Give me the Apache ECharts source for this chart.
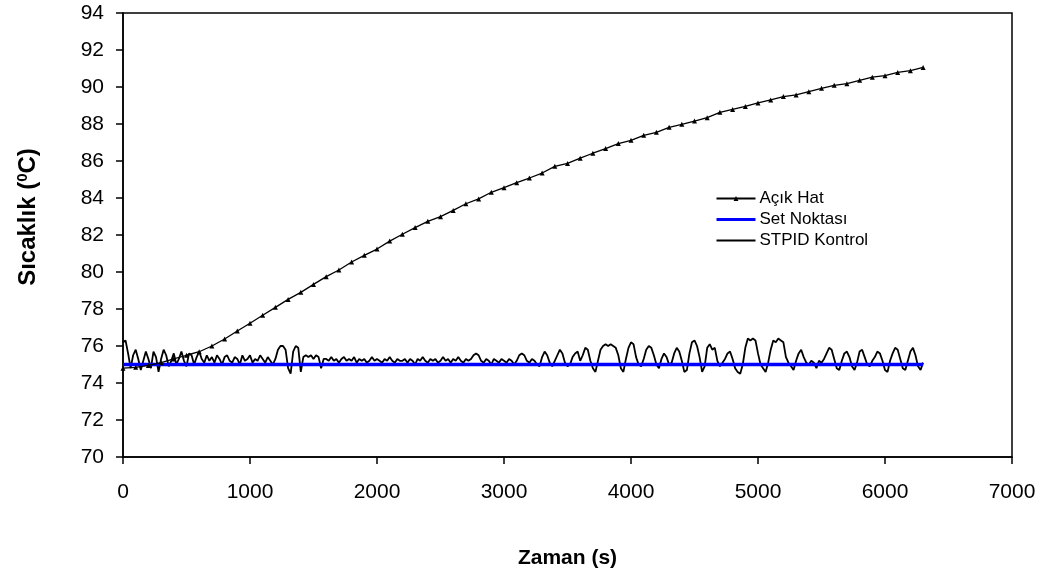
<!DOCTYPE html>
<html>
<head>
<meta charset="utf-8">
<script src="https://cdn.jsdelivr.net/npm/echarts@6/dist/echarts.min.js"></script>
<style>html,body{margin:0;padding:0;background:#fff}#c{width:1038px;height:571px}</style>
</head>
<body>
<div id="c"></div>
<script>
// Açık Hat (open loop) — one value every 100 s from 0 to 6300 s
const openLoopTimes = [0,100,200,300,400,500,600,700,800,900,1000,1100,1200,1300,1400,1500,1600,1700,1800,1900,2000,2100,2200,2300,2400,2500,2600,2700,2800,2900,3000,3100,3200,3300,3400,3500,3600,3700,3800,3900,4000,4100,4200,4300,4400,4500,4600,4700,4800,4900,5000,5100,5200,5300,5400,5500,5600,5700,5800,5900,6000,6100,6200,6300];
const openLoopValues = [74.8,74.85,74.95,75.1,75.3,75.5,75.69,76.0,76.38,76.81,77.23,77.66,78.09,78.52,78.9,79.33,79.75,80.11,80.54,80.9,81.24,81.67,82.04,82.4,82.74,82.99,83.33,83.69,83.95,84.31,84.56,84.83,85.08,85.35,85.71,85.87,86.15,86.42,86.67,86.94,87.12,87.39,87.55,87.82,87.98,88.16,88.34,88.63,88.79,88.95,89.14,89.3,89.48,89.57,89.75,89.93,90.09,90.18,90.36,90.53,90.61,90.79,90.88,91.06];

// Set Noktası (set point)
const setPointTimes = [0, 6300];
const setPointValues = [75, 75];

// STPID Kontrol — one value every 20 s from 0 to 6300 s
const stpidStep = 20;
const stpidValues = [
76.2,76.3,75.6,74.8,75.5,75.8,75.3,74.7,75.2,75.7,
75.3,74.8,75.7,75.4,74.6,75.3,75.8,75.5,74.9,75.2,
75.6,75.0,75.3,75.7,75.2,74.9,75.6,75.5,75.0,75.4,
75.7,75.3,75.1,75.5,75.2,75.4,75.1,75.5,75.3,75.0,
75.4,75.5,75.2,75.1,75.4,75.3,75.0,75.5,75.2,75.3,
75.5,75.1,75.3,75.2,75.5,75.3,75.1,75.4,75.2,75.0,
75.3,75.8,76.0,76.0,75.8,74.8,74.5,75.7,76.0,75.9,
74.6,75.4,75.5,75.4,75.5,75.3,75.5,75.4,74.8,75.3,
75.3,75.2,75.4,75.2,75.3,75.1,75.3,75.4,75.2,75.3,
75.2,75.4,75.1,75.3,75.2,75.3,75.1,75.2,75.4,75.2,
75.3,75.2,75.1,75.3,75.2,75.4,75.2,75.1,75.3,75.2,
75.2,75.3,75.1,75.3,75.2,75.0,75.3,75.2,75.4,75.2,
75.1,75.3,75.2,75.3,75.1,75.2,75.4,75.2,75.3,75.1,
75.3,75.2,75.4,75.2,75.1,75.3,75.2,75.3,75.5,75.6,
75.5,75.2,75.1,75.3,75.2,75.0,75.3,75.2,75.1,75.3,
75.2,75.1,75.3,75.2,75.0,75.2,75.5,75.6,75.5,75.2,
75.1,75.3,75.2,75.0,74.9,75.4,75.7,75.5,75.1,74.9,
75.2,75.5,75.8,75.6,75.1,74.9,75.0,75.4,75.6,75.7,
75.2,75.5,75.9,75.8,75.2,74.8,74.6,75.2,75.8,76.0,
76.1,76.0,76.1,76.0,75.9,75.5,74.8,74.6,75.3,75.9,
76.2,76.1,75.4,75.0,74.9,75.3,75.8,76.0,75.9,75.5,
75.0,74.8,75.3,75.6,75.4,75.0,75.1,75.6,75.9,75.7,
75.2,74.6,74.7,75.6,76.2,76.3,76.0,75.4,74.6,74.9,
75.9,76.1,75.8,75.9,75.2,74.9,75.1,75.3,75.6,75.7,
75.3,74.8,74.6,74.5,75.0,75.9,76.4,76.3,76.4,76.3,
75.6,75.0,74.8,74.6,75.1,75.8,76.3,76.2,76.4,76.3,
76.2,75.4,75.1,74.9,74.7,75.2,75.6,75.8,75.4,75.1,
75.0,75.2,75.1,74.8,75.2,75.1,75.3,75.6,75.9,75.8,
75.3,74.8,74.7,75.2,75.6,75.7,75.4,74.9,74.7,75.1,
75.7,75.8,75.4,75.0,74.9,75.2,75.4,75.7,75.6,75.2,
74.7,74.6,75.2,75.6,75.9,75.8,75.3,74.8,74.7,75.2,
75.7,75.9,75.5,74.9,74.7,75.1
];

// Axis ticks
const xMin = 0, xMax = 7000, xInterval = 1000;
const yMin = 70, yMax = 94, yInterval = 2;

const openLoopData = openLoopTimes.map((t, i) => [t, openLoopValues[i]]);
const setPointData = setPointTimes.map((t, i) => [t, setPointValues[i]]);
const stpidData = stpidValues.map((v, i) => [i * stpidStep, v]);

const FONT = 'Liberation Sans, Arial, sans-serif';
const chart = echarts.init(document.getElementById('c'), null, {renderer: 'canvas'});
chart.setOption({
  animation: false,
  backgroundColor: '#fff',
  textStyle: {fontFamily: FONT, color: '#000'},
  grid: {left: 123, top: 13, right: 26, bottom: 114, show: true, borderColor: '#000', borderWidth: 1.5, containLabel: false, outerBoundsMode: 'none'},
  legend: {
    orient: 'vertical', left: 710, top: 185, itemGap: 4, itemWidth: 39, itemHeight: 6,
    textStyle: {fontFamily: FONT, fontSize: 17, color: '#000', padding: [0,0,0,-1]},
    data: [
      {name: 'Açık Hat'},
      {name: 'Set Noktası', itemStyle: {opacity: 0}, lineStyle: {width: 3}},
      {name: 'STPID Kontrol', itemStyle: {opacity: 0}}
    ]
  },
  xAxis: {
    type: 'value', min: xMin, max: xMax, interval: xInterval,
    name: 'Zaman (s)', nameLocation: 'middle', nameGap: 91,
    nameTextStyle: {fontFamily: FONT, fontSize: 21, fontWeight: 'bold', color: '#000'},
    axisLine: {lineStyle: {color: '#000', width: 1.5}},
    axisTick: {inside: false, length: 7, lineStyle: {color: '#000', width: 1.5}},
    axisLabel: {fontFamily: FONT, fontSize: 21, color: '#000', margin: 25, formatter: v => String(v)},
    splitLine: {show: false}
  },
  yAxis: {
    type: 'value', min: yMin, max: yMax, interval: yInterval,
    name: '{a|Sıcaklık (}{b|0}{a|C)}', nameLocation: 'middle', nameGap: 82, nameRotate: 90,
    nameTextStyle: {
      fontFamily: FONT, fontSize: 24, fontWeight: 'bold', color: '#000', padding: [0,0,0,36],
      rich: {
        a: {fontFamily: FONT, fontSize: 24, fontWeight: 'bold', color: '#000'},
        b: {fontFamily: FONT, fontSize: 15, fontWeight: 'bold', color: '#000', verticalAlign: 'top', padding: [0,0,11,0]}
      }
    },
    axisLine: {show: true, lineStyle: {color: '#000', width: 1.5}},
    axisTick: {show: true, inside: false, length: 7, lineStyle: {color: '#000', width: 1.5}},
    axisLabel: {fontFamily: FONT, fontSize: 21, color: '#000', margin: 19},
    splitLine: {show: false}
  },
  series: [
    {
      name: 'Açık Hat', type: 'line', data: openLoopData, z: 4,
      symbol: 'triangle', symbolSize: 5, showSymbol: true,
      lineStyle: {color: '#000', width: 1.3}, itemStyle: {color: '#000'}
    },
    {
      name: 'Set Noktası', type: 'line', data: setPointData, z: 3,
      symbol: 'none', lineStyle: {color: '#0000ff', width: 3.5}, itemStyle: {color: '#0000ff'}
    },
    {
      name: 'STPID Kontrol', type: 'line', data: stpidData, z: 2,
      symbol: 'none', lineStyle: {color: '#000', width: 1.8}, itemStyle: {color: '#000'}
    }
  ]
});
</script>
</body>
</html>
